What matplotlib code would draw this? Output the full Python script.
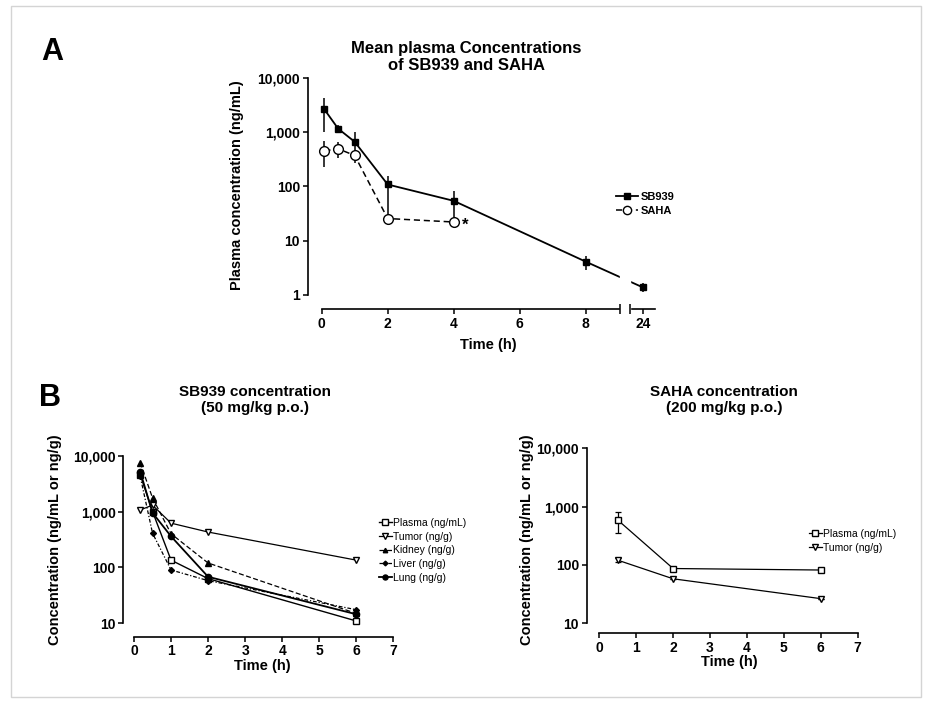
import numpy as np
import matplotlib
matplotlib.use('agg')
import matplotlib.pyplot as plt
from matplotlib.ticker import FuncFormatter, NullLocator
from matplotlib.patches import Rectangle

plt.rcParams['font.family'] = ['Liberation Sans', 'DejaVu Sans']
plt.rcParams['font.weight'] = 'bold'

# Panel A: mean plasma concentrations (ng/mL)
a_time_sb = [0.083, 0.5, 1, 2, 4, 8, 24]
a_sb939 = [2600, 1150, 660, 108, 54, 4.1, 1.38]
a_sb939_err_lo = [1620, 200, 200, 83, 26.5, 1.2, 0.25]
a_sb939_err_hi = [1600, 200, 320, 47, 27, 1.0, 0.25]

a_time_saha = [0.083, 0.5, 1, 2, 4]
a_saha = [450, 490, 370, 25.5, 22]
a_saha_err_lo = [220, 163, 100, 0, 0]
a_saha_err_hi = [233, 160, 100, 0, 0]

a_xticks = [0, 2, 4, 6, 8, 24]

# Panel B left: SB939 50 mg/kg p.o.
b_time = [0.167, 0.5, 1, 2, 6]
b_plasma = [4600, 1000, 135, 63, 11]
b_tumor = [1070, 1300, 620, 430, 135]
b_kidney = [7500, 1750, 400, 120, 15]
b_liver = [4300, 410, 90, 58, 17.5]
b_lung = [5200, 950, 360, 68, 14.5]
b_labels = ['Plasma (ng/mL)', 'Tumor (ng/g)', 'Kidney (ng/g)', 'Liver (ng/g)', 'Lung (ng/g)']

# Panel B right: SAHA 200 mg/kg p.o.
c_time = [0.5, 2, 6]
c_plasma = [590, 87, 82]
c_plasma_err = [235, 0, 0]
c_tumor = [121, 58, 26.5]
c_tumor_err = [10, 0, 0]
c_labels = ['Plasma (ng/mL)', 'Tumor (ng/g)']

W, H = 931, 704


def px_rect(l, t, r, b):
    return [l / W, 1 - b / H, (r - l) / W, (b - t) / H]


def fx(x):
    return x / W


def fy(y):
    return 1 - y / H


# broken x axis for panel A (8 h ... 24 h)
brk_lo, brk_hi, brk_gap = 9.04, 23.615, 10 / 33.
brk_shift = brk_hi - brk_lo - brk_gap


def fwd(x):
    x = np.asarray(x, float)
    return np.where(x <= brk_lo, x,
                    np.where(x >= brk_hi, x - brk_shift,
                             brk_lo + (x - brk_lo) * brk_gap / (brk_hi - brk_lo)))


def inv(y):
    y = np.asarray(y, float)
    return np.where(y <= brk_lo, y,
                    np.where(y >= brk_lo + brk_gap, y + brk_shift,
                             brk_lo + (y - brk_lo) * (brk_hi - brk_lo) / brk_gap))


comma_fmt = FuncFormatter(lambda v, p: '{:,}'.format(int(round(v))))


def style(ax, xb, yb):
    for s in ['top', 'right']:
        ax.spines[s].set_visible(False)
    ax.spines['left'].set_bounds(*yb)
    ax.spines['bottom'].set_bounds(*xb)
    for s in ['left', 'bottom']:
        ax.spines[s].set_linewidth(1.2)
    ax.set_yscale('log')
    ax.yaxis.set_minor_locator(NullLocator())
    ax.yaxis.set_major_formatter(comma_fmt)
    ax.tick_params(direction='out', length=3.5, width=1.1, labelsize=10, pad=2)
    ax.set_facecolor('none')


fig = plt.figure(figsize=(9.31, 7.04), dpi=100)
fig.patches.append(Rectangle((fx(11), fy(697)), fx(921) - fx(11), fy(6) - fy(697),
                             transform=fig.transFigure, fill=False, ec='#d4d4d4', lw=1))

# ---------------- Panel A ----------------
axA = fig.add_axes(px_rect(307.7, 77.7, 655, 309))
axA.set_xscale('function', functions=(fwd, inv))
style(axA, (0, 24.373), (1, 10000))
axA.set_xlim(-0.424, 24.373)
axA.set_ylim(0.55, 10000)
axA.set_yticks([1, 10, 100, 1000, 10000])
axA.set_xticks(a_xticks)
axA.set_xticklabels([str(t) for t in a_xticks])

axA.errorbar(a_time_sb, a_sb939, yerr=[a_sb939_err_lo, a_sb939_err_hi], fmt='none',
             ecolor='k', elinewidth=1.1, capsize=0, zorder=2)
axA.errorbar(a_time_saha, a_saha, yerr=[a_saha_err_lo, a_saha_err_hi], fmt='none',
             ecolor='k', elinewidth=1.1, capsize=0, zorder=2)
ln_sb, = axA.plot(a_time_sb, a_sb939, '-s', color='k', ms=5, lw=1.3, label='SB939', zorder=3)
ln_sa, = axA.plot(a_time_saha, a_saha, '--o', color='k', mfc='white', ms=7, lw=1.1,
                  dashes=(4, 2.5), label='SAHA', zorder=4)
axA.annotate('*', xy=(a_time_saha[-1], a_saha[-1]), xytext=(8, -2),
             textcoords='offset points', fontsize=12, ha='center', va='center')

# gap of the axis break
axA.axvspan(brk_lo, brk_hi, ymin=-0.03, ymax=1, color='white', zorder=5, clip_on=False)
axA.plot([brk_lo, brk_hi], [0, 0], transform=axA.get_xaxis_transform(), ls='none',
         marker='|', ms=7, mew=1.1, color='k', clip_on=False, zorder=6)

axA.legend(handles=[ln_sb, ln_sa], loc='center left', bbox_to_anchor=(fx(616), fy(204)),
           bbox_transform=fig.transFigure, frameon=False, fontsize=8, handlelength=2.0,
           handletextpad=0.2, labelspacing=0.35, borderpad=0, borderaxespad=0,
           markerscale=0.85)

fig.text(fx(52), fy(52), 'A', fontsize=22, ha='center', va='center')
fig.text(fx(466), fy(57), 'Mean plasma Concentrations\nof SB939 and SAHA', fontsize=12,
         ha='center', va='center', linespacing=1.2)
fig.text(fx(237), fy(185), 'Plasma concentration (ng/mL)', fontsize=10.5,
         rotation=90, ha='center', va='center')
fig.text(fx(488), fy(345), 'Time (h)', fontsize=10.5, ha='center', va='center')

# ---------------- Panel B left ----------------
axB = fig.add_axes(px_rect(123.3, 455.7, 393.3, 636.7))
style(axB, (0, 7), (10, 10000))
axB.set_xlim(-0.289, 7)
axB.set_ylim(5.75, 10000)
axB.set_yticks([10, 100, 1000, 10000])
axB.set_xticks(range(0, 8))

b_series = [b_plasma, b_tumor, b_kidney, b_liver, b_lung]
b_styles = [
    dict(ls='-', marker='s', mfc='white', ms=5, lw=1.0),
    dict(ls='-', marker='v', mfc='white', ms=5, lw=0.9),
    dict(ls=(0, (4, 2)), marker='^', mfc='k', ms=4, lw=0.9),
    dict(ls=(0, (3, 1.5, 1, 1.5)), marker='D', mfc='k', ms=3, lw=0.9),
    dict(ls='-', marker='o', mfc='k', ms=4.5, lw=1.3),
]
b_handles = []
for vals, st, lab in zip(b_series, b_styles, b_labels):
    h, = axB.plot(b_time, vals, color='k', label=lab, clip_on=False, **st)
    b_handles.append(h)
axB.legend(handles=b_handles, loc='upper left', bbox_to_anchor=(fx(379), fy(518)),
           bbox_transform=fig.transFigure, frameon=False, handlelength=1.2,
           handletextpad=0.15, labelspacing=0.35, borderpad=0, borderaxespad=0,
           prop={'size': 7.5, 'weight': 'normal'}, markerscale=0.8)

fig.text(fx(50), fy(398), 'B', fontsize=22, ha='center', va='center')
fig.text(fx(255), fy(400), 'SB939 concentration\n(50 mg/kg p.o.)', fontsize=11,
         ha='center', va='center', linespacing=1.15)
fig.text(fx(55), fy(540), 'Concentration (ng/mL or ng/g)', fontsize=10.5,
         rotation=90, ha='center', va='center')
fig.text(fx(262), fy(666), 'Time (h)', fontsize=10.5, ha='center', va='center')

# ---------------- Panel B right ----------------
axC = fig.add_axes(px_rect(586.7, 448.3, 857.7, 633.3))
style(axC, (0, 7), (10, 10000))
axC.set_xlim(-0.341, 7)
axC.set_ylim(6.75, 10000)
axC.set_yticks([10, 100, 1000, 10000])
axC.set_xticks(range(0, 8))

axC.errorbar(c_time, c_plasma, yerr=c_plasma_err, fmt='none', ecolor='k',
             elinewidth=0.9, capsize=2.5, capthick=0.9)
axC.errorbar(c_time, c_tumor, yerr=c_tumor_err, fmt='none', ecolor='k',
             elinewidth=0.9, capsize=2.5, capthick=0.9)
c_h1, = axC.plot(c_time, c_plasma, '-s', color='k', mfc='white', ms=5, lw=0.9,
                 label=c_labels[0])
c_h2, = axC.plot(c_time, c_tumor, '-v', color='k', mfc='white', ms=5, lw=0.9,
                 label=c_labels[1])
axC.legend(handles=[c_h1, c_h2], loc='upper left', bbox_to_anchor=(fx(809), fy(529)),
           bbox_transform=fig.transFigure, frameon=False, handlelength=1.2,
           handletextpad=0.15, labelspacing=0.35, borderpad=0, borderaxespad=0,
           prop={'size': 7.5, 'weight': 'normal'}, markerscale=0.8)

fig.text(fx(724), fy(400), 'SAHA concentration\n(200 mg/kg p.o.)', fontsize=11,
         ha='center', va='center', linespacing=1.15)
fig.text(fx(527), fy(540), 'Concentration (ng/mL or ng/g)', fontsize=10.5,
         rotation=90, ha='center', va='center')
fig.text(fx(729), fy(662), 'Time (h)', fontsize=10.5, ha='center', va='center')

fig.savefig('out.png', dpi=100)
